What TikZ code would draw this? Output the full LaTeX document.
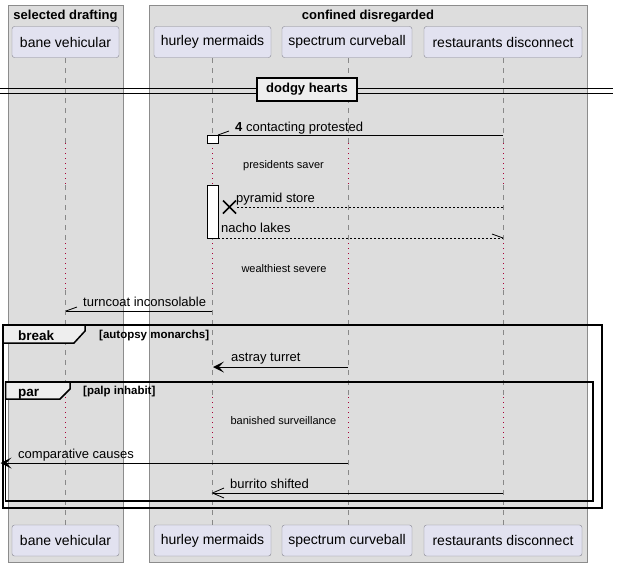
\documentclass[tikz,border=0pt]{standalone}
\usepackage{fontspec}
\setmainfont{Liberation Sans}
\definecolor{grpbg}{HTML}{DDDDDD}
\definecolor{grpline}{HTML}{8C8C8C}
\definecolor{partfill}{HTML}{E2E2F0}
\definecolor{partline}{HTML}{85858F}
\definecolor{delayred}{HTML}{A80036}
\definecolor{tabfill}{HTML}{EEEEEE}
\definecolor{lifegray}{HTML}{888888}
\newcommand{\fs}[1]{\fontsize{#1}{#1}\selectfont}
\begin{document}
\begin{tikzpicture}[x=1pt,y=-1pt,
  part/.style={draw=partline, fill=partfill, rounded corners=2.5pt, minimum height=31pt, inner sep=0pt, font=\fs{14}},
  grptitle/.style={anchor=base, inner sep=0pt, font=\bfseries\fs{13}},
  lifeline/.style={lifegray, line width=0.8pt, dash pattern=on 5pt off 5pt},
  delayline/.style={delayred, line width=0.8pt, dash pattern=on 1pt off 4pt},
  msg/.style={black, line width=0.8pt},
  dmsg/.style={black, line width=0.8pt, dash pattern=on 2pt off 2pt},
  lbl/.style={anchor=base west, inner sep=0pt, font=\fs{13}},
  notelbl/.style={anchor=base, inner sep=0pt, font=\fs{11}},
  frame/.style={black, line width=1.5pt},
  activ/.style={draw=black, fill=white, line width=0.8pt}
]
\useasboundingbox (0,0) rectangle (618,566);
\fill[white] (0,0) rectangle (618,566);
% group backgrounds
\draw[grpline, fill=grpbg] (8,5) rectangle (123,562);
\draw[grpline, fill=grpbg] (149,5) rectangle (587,562);
\node[grptitle] (g1) at (65.5,19) {selected drafting};
\node[grptitle] (g2) at (368,19) {confined disregarded};
% lifelines
\foreach \x in {65.5,212,348,503}{
  \draw[lifeline] (\x,58) -- (\x,143);
  \draw[delayline] (\x,143) -- (\x,185);
  \draw[lifeline] (\x,185) -- (\x,243);
  \draw[delayline] (\x,243) -- (\x,290);
  \draw[lifeline] (\x,290) -- (\x,397);
  \draw[delayline] (\x,397) -- (\x,440);
  \draw[lifeline] (\x,440) -- (\x,525);
}
% participants
\node[part, minimum width=107pt] (bvT) at (65.5,42) {bane vehicular};
\node[part, minimum width=117pt] (hmT) at (212.5,42) {hurley mermaids};
\node[part, minimum width=130pt] (scT) at (347,42) {spectrum curveball};
\node[part, minimum width=158pt] (rdT) at (503,42) {restaurants disconnect};
\node[part, minimum width=107pt] (bvB) at (65.5,540.5) {bane vehicular};
\node[part, minimum width=117pt] (hmB) at (212.5,540.5) {hurley mermaids};
\node[part, minimum width=130pt] (scB) at (347,540.5) {spectrum curveball};
\node[part, minimum width=158pt] (rdB) at (503,540.5) {restaurants disconnect};
% divider
\draw[black, line width=1pt] (0,88) -- (613,88);
\draw[black, line width=1pt] (0,93) -- (613,93);
\node[draw=black, line width=1.5pt, fill=tabfill, minimum width=100pt, minimum height=23pt, inner sep=0pt, font=\bfseries\fs{13}] (div) at (307,89.5) {dodgy hearts};
% activations
\draw[activ] (207,135) rectangle (218,143);
\draw[activ] (207,185) rectangle (218,238);
% message 4
\draw[msg] (503,135) -- (218,135);
\draw[msg] (218,135) -- (229,131);
\node[lbl] (m1) at (235,131) {\textbf{4} contacting protested};
% note
\node[notelbl] (n1) at (283.5,168) {presidents saver};
% pyramid store
\draw[dmsg] (503,207) -- (236,207);
\draw[black, line width=1.6pt] (223,200.5) -- (236,213.5) (223,213.5) -- (236,200.5);
\node[lbl] (m2) at (236,202) {pyramid store};
% nacho lakes
\draw[dmsg] (218,238) -- (503,238);
\draw[msg] (503,238) -- (492,234);
\node[lbl] (m3) at (221,232) {nacho lakes};
% note
\node[notelbl] (n2) at (284,272) {wealthiest severe};
% turncoat
\draw[msg] (212,311) -- (66,311);
\draw[msg] (66,311) -- (77,307);
\node[lbl] (m4) at (83,306) {turncoat inconsolable};
% astray turret
\draw[msg] (348,367) -- (216,367);
\fill[black] (213,367) -- (224,361.5) -- (219,367) -- (224,372.5) -- cycle;
\node[lbl] (m5) at (231,361) {astray turret};
% note
\node[notelbl] (n3) at (283.5,424) {banished surveillance};
% comparative causes
\draw[msg] (348,463) -- (3,463);
\fill[black] (0.5,463) -- (11.5,457.5) -- (6.5,463) -- (11.5,468.5) -- cycle;
\node[lbl] (m6) at (18,458) {comparative causes};
% burrito shifted
\draw[msg] (503,493) -- (213,493);
\draw[msg] (224,488) -- (212.5,493) -- (224,498);
\node[lbl] (m7) at (230,488) {burrito shifted};
% break frame
\draw[frame] (3,325) rectangle (602,508);
\draw[frame, fill=tabfill] (3,325) -- (85,325) -- (85,331) -- (74,343) -- (3,343) -- cycle;
\node[anchor=base west, inner sep=0pt, font=\bfseries\fs{13.5}] (bk) at (18,340) {break};
\node[anchor=base west, inner sep=0pt, font=\bfseries\fs{11.5}] (bkc) at (99,338) {[autopsy monarchs]};
% par frame
\draw[frame] (5.5,382) rectangle (593,501);
\draw[frame, fill=tabfill] (5.5,382) -- (70,382) -- (70,389) -- (60,399) -- (5.5,399) -- cycle;
\node[anchor=base west, inner sep=0pt, font=\bfseries\fs{13.5}] (pr) at (18,396) {par};
\node[anchor=base west, inner sep=0pt, font=\bfseries\fs{11.5}] (prc) at (83,394) {[palp inhabit]};
\end{tikzpicture}
\end{document}
